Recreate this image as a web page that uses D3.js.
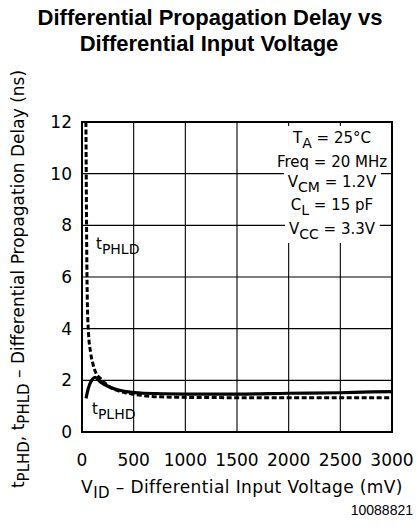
<!DOCTYPE html>
<html>
<head>
<meta charset="utf-8">
<script src="https://cdn.jsdelivr.net/npm/d3@7"></script>
<style>
  html, body { margin: 0; padding: 0; background: #fff; }
  svg { display: block; }
  .lbl { font-family: "DejaVu Sans", sans-serif; fill: #000; }
</style>
</head>
<body>
<script>
// ---- data ----
const xTicks = [0, 500, 1000, 1500, 2000, 2500, 3000];
const yTicks = [0, 2, 4, 6, 8, 10, 12];
const phldVid = [38, 41, 44, 47, 51, 61, 84, 109, 135, 174, 271, 432, 590, 755, 1000, 1500, 2000, 2500, 3000];
const phldNs  = [12, 10, 8, 6.5, 5.2, 3.95, 3.06, 2.59, 2.28, 2.09, 1.74, 1.51, 1.41, 1.36, 1.34, 1.33, 1.33, 1.33, 1.33];
const plhdVid = [39, 61, 94, 126, 174, 271, 432, 593, 1000, 1500, 2000, 2500, 2800, 3000];
const plhdNs  = [1.30, 1.69, 2.01, 2.12, 1.95, 1.73, 1.56, 1.50, 1.47, 1.47, 1.50, 1.52, 1.55, 1.56];
const conditions = [
  ["T", "A", " = 25°C"],
  ["Freq = 20 MHz", "", ""],
  ["V", "CM", " = 1.2V"],
  ["C", "L", " = 15 pF"],
  ["V", "CC", " = 3.3V"]
];
const condBaselines = [143, 167, 187, 210, 234];

const W = 417, H = 529;
const svg = d3.select("body").append("svg").attr("width", W).attr("height", H);

const x = d3.scaleLinear().domain([0, 3000]).range([82, 392]);
const y = d3.scaleLinear().domain([0, 12]).range([432, 122]);

// title
const title = svg.append("text")
  .attr("text-anchor", "middle")
  .style("font-family", "Liberation Sans, Arial, sans-serif")
  .style("font-weight", "bold").style("font-size", "22px");
title.append("tspan").attr("x", 210).attr("y", 25).text("Differential Propagation Delay vs");
title.append("tspan").attr("x", 209).attr("y", 51).text("Differential Input Voltage");

// grid
const g = svg.append("g");
g.selectAll("line.v").data(xTicks).join("line")
  .attr("x1", d => x(d)).attr("x2", d => x(d))
  .attr("y1", y(0)).attr("y2", y(12))
  .attr("stroke", "#000").attr("stroke-width", 1.1);
g.selectAll("line.h").data(yTicks).join("line")
  .attr("y1", d => y(d)).attr("y2", d => y(d))
  .attr("x1", x(0)).attr("x2", x(3000))
  .attr("stroke", "#000").attr("stroke-width", 1.1);

// conditions text with white background
const cg = svg.append("g");
const rectG = cg.append("g");
const textG = cg.append("g");
const boxes = [];
conditions.forEach((c, i) => {
  const t = textG.append("text").attr("class", "lbl")
    .attr("x", 332).attr("y", condBaselines[i])
    .attr("text-anchor", "middle").style("font-size", "15px");
  t.append("tspan").text(c[0]);
  if (c[1]) {
    t.append("tspan").attr("dy", 5).style("font-size", "14px").text(c[1]);
    t.append("tspan").attr("dy", -5).text(c[2]);
  }
  boxes.push(t.node().getBBox());
});
boxes.forEach((b, i) => {
  const top = i === 0 ? 126 : (condBaselines[i - 1] + 4);
  const bot = i === boxes.length - 1 ? 243 : condBaselines[i] + 4;
  rectG.append("rect")
    .attr("x", b.x - 4).attr("width", b.width + 8)
    .attr("y", top).attr("height", bot - top)
    .attr("fill", "#fff");
});

// frame
svg.append("rect").attr("x", x(0)).attr("y", y(12))
  .attr("width", x(3000) - x(0)).attr("height", y(0) - y(12))
  .attr("fill", "none").attr("stroke", "#000").attr("stroke-width", 2);

// curves
const line = d3.line().x(d => x(d[0])).y(d => y(d[1])).curve(d3.curveMonotoneX);
svg.append("path").datum(d3.zip(phldVid, phldNs))
  .attr("d", line).attr("fill", "none").attr("stroke", "#000")
  .attr("stroke-width", 3).attr("stroke-dasharray", "5,2.5");
svg.append("path").datum(d3.zip(plhdVid, plhdNs))
  .attr("d", line).attr("fill", "none").attr("stroke", "#000")
  .attr("stroke-width", 3.2);

// curve labels
function subLabel(px, py, main, sub) {
  const t = svg.append("text").attr("class", "lbl").attr("x", px).attr("y", py).style("font-size", "15px");
  t.append("tspan").text(main);
  t.append("tspan").attr("dy", 5).style("font-size", "14px").text(sub);
}
subLabel(96, 249, "t", "PHLD");
subLabel(92, 414, "t", "PLHD");

// tick labels
svg.selectAll("text.xt").data(xTicks).join("text").attr("class", "lbl")
  .attr("x", d => x(d)).attr("y", 466).attr("text-anchor", "middle")
  .style("font-size", "17px").text(d => d);
svg.selectAll("text.yt").data(yTicks).join("text").attr("class", "lbl")
  .attr("x", 72).attr("y", d => y(d)).attr("dy", "0.36em").attr("text-anchor", "end")
  .style("font-size", "17px").text(d => d);

// x label
const xl = svg.append("text").attr("class", "lbl").attr("x", 242).attr("y", 493)
  .attr("text-anchor", "middle").style("font-size", "17px").style("letter-spacing", "0.4px");
xl.append("tspan").text("V");
xl.append("tspan").attr("dy", 5).style("font-size", "15px").text("ID");
xl.append("tspan").attr("dy", -5).text(" – Differential Input Voltage (mV)");

// y label
const yl = svg.append("text").attr("class", "lbl")
  .attr("transform", "translate(24,279) rotate(-90)")
  .attr("text-anchor", "middle").style("font-size", "17px");
yl.append("tspan").text("t");
yl.append("tspan").attr("dy", 5).style("font-size", "15px").text("PLHD");
yl.append("tspan").attr("dy", -5).text(", t");
yl.append("tspan").attr("dy", 5).style("font-size", "15px").text("PHLD");
yl.append("tspan").attr("dy", -5).text(" – Differential Propagation Delay (ns)");

// figure id
svg.append("text").attr("x", 413).attr("y", 515).attr("text-anchor", "end")
  .style("font-family", "Liberation Sans, Arial, sans-serif").style("font-size", "14px")
  .text("10088821");
</script>
</body>
</html>
